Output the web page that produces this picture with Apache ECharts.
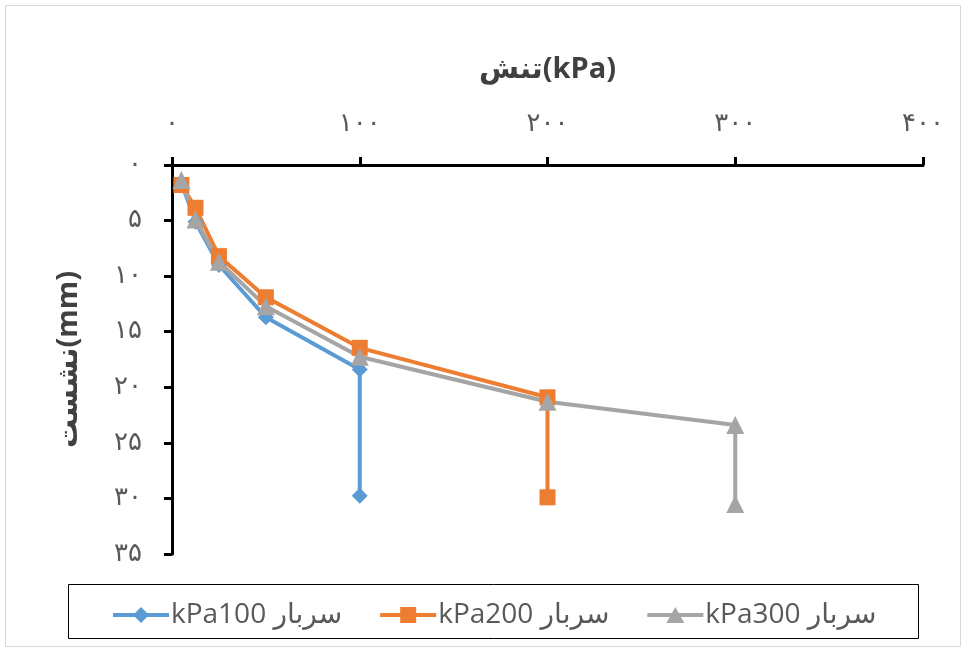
<!DOCTYPE html>
<html>
<head>
<meta charset="utf-8">
<script src="https://cdn.jsdelivr.net/npm/echarts@6/dist/echarts.min.js"></script>
<style>
  html, body { margin: 0; padding: 0; background: #fff; }
  #chart { width: 966px; height: 652px; }
</style>
</head>
<body>
<div id="chart"></div>
<script>
// Persian digit tick labels
const xTicks = ['۰', '۱۰۰', '۲۰۰', '۳۰۰', '۴۰۰'];
const yTicks = ['۰', '۵', '۱۰', '۱۵', '۲۰', '۲۵', '۳۰', '۳۵'];

// Series names
const seriesNames = ['kPa100 سربار', 'kPa200 سربار', 'kPa300 سربار'];

// Stress (kPa) and settlement (mm) for each surcharge
const stress100 = [5, 12.5, 25, 50, 100, 100];
const settle100 = [1.6, 5.1, 9.0, 13.7, 18.4, 29.75];

const stress200 = [5, 12.5, 25, 50, 100, 200, 200];
const settle200 = [1.8, 3.85, 8.2, 11.9, 16.45, 20.9, 29.9];

const stress300 = [5, 12.5, 25, 50, 100, 200, 300, 300];
const settle300 = [1.35, 4.9, 8.7, 12.7, 17.25, 21.3, 23.4, 30.5];

const pairs = (xs, ys) => xs.map((x, i) => [x, ys[i]]);

// Legend icons: a 4px bar with the series marker in its middle
const barPath = 'M0 6H56V10H0Z';
const legendIcons = [
  'path://' + barPath + ' M20 8L28 0L36 8L28 16Z',
  'path://' + barPath + ' M20 0H36V16H20Z',
  'path://' + barPath + ' M19 16L28 0L37 16Z'
];

const chart = echarts.init(document.getElementById('chart'));

const lineSeries = (name, xs, ys, color, symbol, size) => ({
  name: name,
  type: 'line',
  data: pairs(xs, ys),
  symbol: symbol,
  symbolSize: size,
  lineStyle: { color: color, width: 4 },
  itemStyle: { color: color },
  animation: false
});

chart.setOption({
  backgroundColor: '#ffffff',
  textStyle: { fontFamily: '"Open Sans", "DejaVu Sans", sans-serif' },
  graphic: [
    {
      type: 'rect',
      shape: { x: 5.5, y: 5.5, width: 955, height: 641 },
      style: { fill: 'none', stroke: '#d9d9d9', lineWidth: 1 },
      silent: true
    },
    {
      type: 'rect',
      shape: { x: 68.5, y: 584.5, width: 850, height: 54 },
      style: { fill: 'none', stroke: '#000000', lineWidth: 1 },
      silent: true
    }
  ],
  grid: { left: 172, top: 165, right: 43, bottom: 98 },
  legend: {
    left: 108,
    top: 596,
    itemWidth: 56,
    itemHeight: 16,
    itemGap: 38,
    textStyle: { fontSize: 28, color: '#595959', fontFamily: '"Open Sans", "DejaVu Sans", sans-serif', padding: [0, 0, 0, -3] },
    data: seriesNames.map((n, i) => ({ name: n, icon: legendIcons[i] }))
  },
  xAxis: {
    type: 'value',
    position: 'top',
    min: 0,
    max: 400,
    interval: 100,
    name: 'تنش(kPa)',
    nameLocation: 'middle',
    nameGap: 81,
    nameTextStyle: { fontSize: 29, fontWeight: 'bold', color: '#404040', fontFamily: '"Open Sans", "DejaVu Sans", sans-serif' },
    axisLine: { show: true, lineStyle: { color: '#000', width: 3 } },
    axisTick: { show: true, inside: false, length: 8, lineStyle: { color: '#000', width: 3 } },
    axisLabel: {
      margin: 28,
      fontSize: 26,
      color: '#595959',
      fontFamily: '"DejaVu Sans", sans-serif',
      formatter: (v) => xTicks[Math.round(v / 100)]
    },
    splitLine: { show: false }
  },
  yAxis: {
    type: 'value',
    inverse: true,
    min: 0,
    max: 35,
    interval: 5,
    name: 'نشست(mm)',
    nameLocation: 'middle',
    nameGap: 89,
    nameTextStyle: { fontSize: 29, fontWeight: 'bold', color: '#404040', fontFamily: '"Open Sans", "DejaVu Sans", sans-serif' },
    axisLine: { show: true, lineStyle: { color: '#000', width: 3 } },
    axisTick: { show: true, inside: false, length: 8, lineStyle: { color: '#000', width: 3 } },
    axisLabel: {
      margin: 30,
      fontSize: 26,
      color: '#595959',
      fontFamily: '"DejaVu Sans", sans-serif',
      formatter: (v) => yTicks[Math.round(v / 5)]
    },
    splitLine: { show: false }
  },
  series: [
    lineSeries(seriesNames[0], stress100, settle100, '#5B9BD5', 'diamond', 16),
    lineSeries(seriesNames[1], stress200, settle200, '#ED7D31', 'rect', 16),
    lineSeries(seriesNames[2], stress300, settle300, '#A5A5A5', 'triangle', 18)
  ]
});
</script>
</body>
</html>
